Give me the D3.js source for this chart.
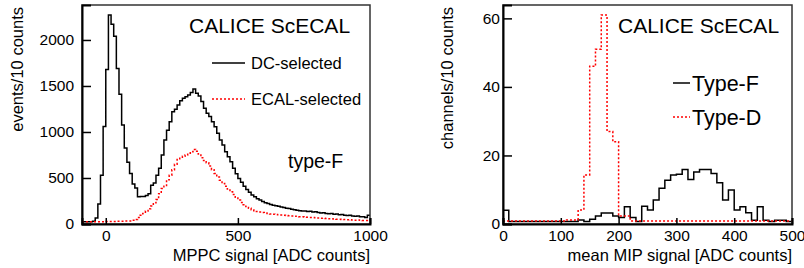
<!DOCTYPE html>
<html>
<head>
<meta charset="utf-8">
<script src="https://cdn.jsdelivr.net/npm/d3@7"></script>
<style>
  body { margin: 0; background: #fff; }
  svg text { font-family: "Liberation Sans", Arial, sans-serif; fill: #000; }
</style>
</head>
<body>
<div id="chart"></div>
<script>
// Left panel: MPPC signal, bins of 10 starting at -90
const leftBinStart = -90;
const binWidth = 10;
const dcSelected = [25, 25, 25, 25, 30, 65, 217, 530, 1060, 1680,
  2270, 2170, 2040, 1690, 1410, 1075, 825, 670, 550, 435,
  390, 295, 300, 300, 310, 330, 420, 445, 530, 605,
  750, 913, 1020, 1112, 1220, 1246, 1293, 1340, 1366, 1384,
  1402, 1428, 1467, 1420, 1391, 1330, 1257, 1203, 1167, 1112,
  1058, 986, 913, 859, 786, 732, 677, 605, 545, 495,
  455, 410, 375, 345, 315, 295, 275, 260, 245, 232,
  222, 212, 205, 198, 192, 185, 180, 172, 168, 160,
  155, 150, 145, 140, 142, 135, 138, 130, 133, 125,
  120, 122, 115, 112, 115, 105, 108, 100, 102, 95,
  92, 95, 88, 85, 88, 80, 78, 72, 95];
const ecalSelected = [25, 25, 25, 25, 25, 25, 25, 25, 25, 28,
  28, 28, 28, 30, 30, 30, 32, 32, 32, 40,
  50, 70, 95, 115, 140, 165, 195, 230, 265, 330,
  385, 410, 480, 530, 590, 650, 700, 715, 735, 750,
  770, 785, 810, 790, 760, 720, 690, 665, 630, 590,
  550, 510, 475, 440, 410, 380, 350, 320, 290, 260,
  235, 210, 190, 170, 155, 145, 135, 130, 125, 120,
  115, 110, 107, 104, 100, 98, 95, 92, 90, 88,
  85, 83, 80, 78, 76, 73, 72, 70, 68, 65,
  62, 63, 60, 57, 58, 55, 52, 52, 50, 48,
  46, 47, 44, 42, 43, 40, 38, 38, 45];
const leftXTicks = [0, 500, 1000];
const leftYTicks = [0, 500, 1000, 1500, 2000];

// Right panel: mean MIP signal, bins of 10 starting at 0
const rightBinStart = 0;
const typeF = [4, 0.7, 0.7, 0.7, 0.7, 0.7, 0.7, 0.7, 0.7, 0.7,
  0.7, 0.7, 0.7, 1.2, 0.7, 1.4, 2.3, 3.2, 3.2, 2.3,
  1.9, 5, 1.9, 0.7, 5.2, 4.1, 7, 10.4, 12.8, 14.3,
  14.5, 15.9, 13, 15.2, 15.9, 15.9, 14.7, 12, 7, 9.9,
  4.1, 5, 3.3, 1.1, 5, 1.1, 0.7, 1.1, 1.1, 0.7];
const typeD = [0.9, 0.9, 0.9, 0.9, 0.9, 0.9, 0.9, 0.9, 0.9, 0.9,
  0.9, 1.2, 1.2, 4.1, 14.3, 46, 51, 61, 27, 24,
  2.3, 2.3, 0.9, 0.9, 0.9, 0.9, 0.9, 0.9, 0.9, 0.9,
  0.9, 0.9, 0.9, 0.9, 0.9, 0.9, 0.9, 0.9, 0.9, 0.9,
  0.9, 0.9, 0.9, 0.9, 0.9, 0.9, 0.9, 0.9, 0.9, 0.9];
const rightXTicks = [0, 100, 200, 300, 400, 500];
const rightYTicks = [0, 20, 40, 60];

const width = 804, height = 268;
const svg = d3.select("#chart").append("svg")
  .attr("width", width)
  .attr("height", height);

// step path helper
function histPoints(values, start) {
  const pts = values.map(function(v, i) { return [start + i * binWidth, v]; });
  pts.push([start + values.length * binWidth, values[values.length - 1]]);
  return pts;
}

function drawPanel(cfg) {
  const x = d3.scaleLinear().domain(cfg.xDomain).range([cfg.left, cfg.right]);
  const y = d3.scaleLinear().domain(cfg.yDomain).range([cfg.bottom, cfg.top]);
  const g = svg.append("g");

  const clipId = "clip-" + cfg.id;
  g.append("clipPath").attr("id", clipId)
    .append("rect")
    .attr("x", cfg.left).attr("y", cfg.top)
    .attr("width", cfg.right - cfg.left).attr("height", cfg.bottom - cfg.top);

  const line = d3.line()
    .x(function(d) { return x(d[0]); })
    .y(function(d) { return y(d[1]); })
    .curve(d3.curveStepAfter);

  cfg.series.forEach(function(s) {
    g.append("path")
      .attr("clip-path", "url(#" + clipId + ")")
      .attr("d", line(histPoints(s.values, cfg.start)))
      .attr("fill", "none")
      .attr("stroke", s.color)
      .attr("stroke-width", 1.5)
      .attr("stroke-dasharray", s.dash || null);
  });

  // frame
  g.append("rect")
    .attr("x", cfg.left).attr("y", cfg.top)
    .attr("width", cfg.right - cfg.left).attr("height", cfg.bottom - cfg.top)
    .attr("fill", "none")
    .attr("stroke", "#333")
    .attr("stroke-width", 1.5);

  // axes with ticks inside frame
  const xAxis = g.append("g")
    .attr("transform", "translate(0," + cfg.bottom + ")")
    .call(d3.axisBottom(x).tickValues(cfg.xTicks).tickSize(-6).tickPadding(6).tickFormat(d3.format("d")));
  const yAxis = g.append("g")
    .attr("transform", "translate(" + cfg.left + ",0)")
    .call(d3.axisLeft(y).tickValues(cfg.yTicks).tickSize(-9).tickPadding(cfg.yPad).tickFormat(d3.format("d")));

  [xAxis, yAxis].forEach(function(a) {
    a.select(".domain").attr("stroke", "#000").attr("stroke-width", 2);
    a.selectAll(".tick line").attr("stroke", "#000").attr("stroke-width", 1.5);
    a.selectAll(".tick text").style("font-size", "15.5px").attr("fill", "#000");
  });

  // axis titles (ROOT style: right/top aligned)
  g.append("text")
    .attr("x", cfg.right).attr("y", 261)
    .attr("text-anchor", "end")
    .style("font-size", "16.5px")
    .text(cfg.xTitle);
  g.append("text")
    .attr("transform", "translate(" + cfg.yTitleX + "," + (cfg.top + 2) + ") rotate(-90)")
    .attr("text-anchor", "end")
    .style("font-size", "16.5px")
    .text(cfg.yTitle);

  g.append("text")
    .attr("x", cfg.labelX).attr("y", 33)
    .style("font-size", "21px")
    .text("CALICE ScECAL");

  return g;
}

const left = drawPanel({
  id: "left", left: 82, right: 370, top: 5, bottom: 224,
  xDomain: [leftBinStart, 1000], yDomain: [0, 2380],
  start: leftBinStart, xTicks: leftXTicks, yTicks: leftYTicks, yPad: 8,
  series: [
    {values: dcSelected, color: "#000"},
    {values: ecalSelected, color: "#ff0000", dash: "2,2"}
  ],
  xTitle: "MPPC signal [ADC counts]", yTitle: "events/10 counts", yTitleX: 23,
  labelX: 189
});

const right = drawPanel({
  id: "right", left: 503, right: 792, top: 5, bottom: 224,
  xDomain: [rightBinStart, 500], yDomain: [0, 63.9],
  start: rightBinStart, xTicks: rightXTicks, yTicks: rightYTicks, yPad: 3,
  series: [
    {values: typeF, color: "#000"},
    {values: typeD, color: "#ff0000", dash: "2,2"}
  ],
  xTitle: "mean MIP signal [ADC counts]", yTitle: "channels/10 counts", yTitleX: 453,
  labelX: 618
});

// Legends
const leftLegend = [
  {label: "DC-selected", color: "#000", y: 63},
  {label: "ECAL-selected", color: "#ff0000", dash: "2,2", y: 99}
];
leftLegend.forEach(function(d) {
  left.append("line").attr("x1", 212).attr("x2", 245).attr("y1", d.y).attr("y2", d.y)
    .attr("stroke", d.color).attr("stroke-width", 1.5).attr("stroke-dasharray", d.dash || null);
  left.append("text").attr("x", 251).attr("y", d.y + 5.5)
    .style("font-size", "16.5px").text(d.label);
});
left.append("text").attr("x", 288).attr("y", 168)
  .style("font-size", "19.5px").text("type-F");

const rightLegend = [
  {label: "Type-F", color: "#000", y: 83},
  {label: "Type-D", color: "#ff0000", dash: "2,2", y: 117}
];
rightLegend.forEach(function(d) {
  right.append("line").attr("x1", 673).attr("x2", 690).attr("y1", d.y).attr("y2", d.y)
    .attr("stroke", d.color).attr("stroke-width", 1.5).attr("stroke-dasharray", d.dash || null);
  right.append("text").attr("x", 692).attr("y", d.y + 7.5)
    .style("font-size", "21.5px").text(d.label);
});
</script>
</body>
</html>
